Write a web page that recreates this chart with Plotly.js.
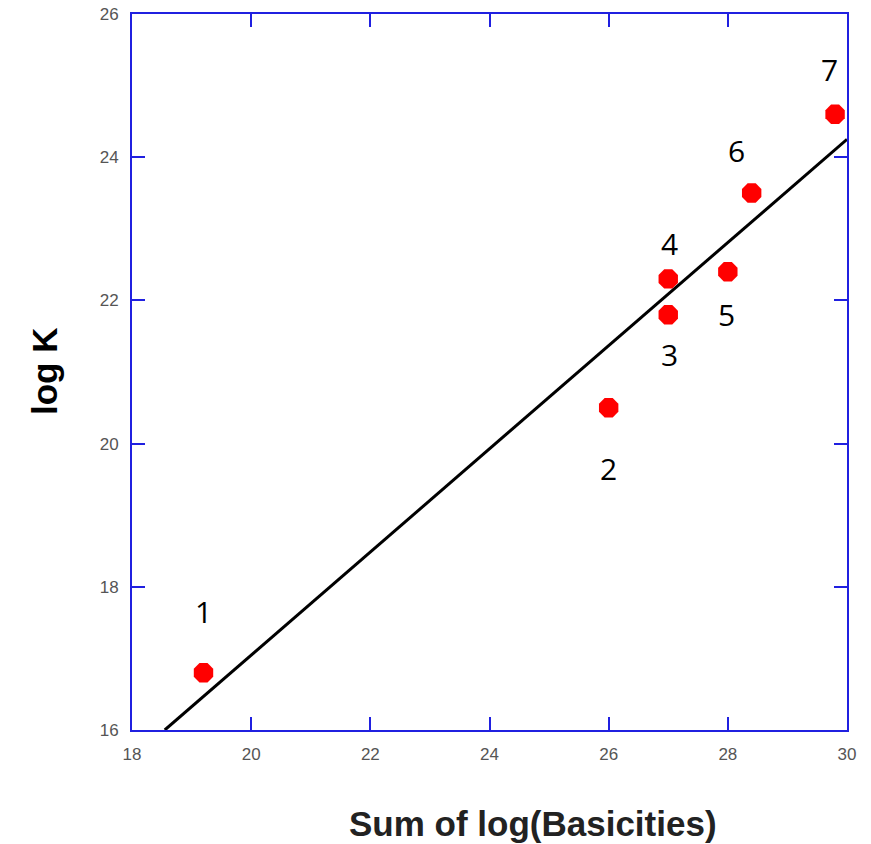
<!DOCTYPE html>
<html><head><meta charset="utf-8">
<script src="https://cdn.plot.ly/plotly-3.0.1.min.js"></script>
<style>html,body{margin:0;padding:0;background:#fff}#chart{width:871px;height:844px}</style>
</head><body><div id="chart"></div>
<script>
const pointX = [19.2, 26.0, 27.0, 27.0, 28.0, 28.4, 29.8];
const pointY = [16.8, 20.5, 21.8, 22.3, 22.4, 23.5, 24.6];
const pointLabels = ["1", "2", "3", "4", "5", "6", "7"];
const labelX = [19.2, 26.0, 27.02, 27.02, 27.98, 28.15, 29.7];
const labelY = [17.65, 19.65, 21.24, 22.8, 21.8, 24.1, 25.22];
const fitX = [18.55, 30];
const fitY = [16.0, 24.25];
const xTicks = [18, 20, 22, 24, 26, 28, 30];
const yTicks = [16, 18, 20, 22, 24, 26];

const traces = [
  {x: fitX, y: fitY, mode: 'lines', line: {color: '#000', width: 3}, hoverinfo: 'skip'},
  {x: pointX, y: pointY, mode: 'markers', marker: {color: '#ff0000', size: 21, symbol: 'octagon'}, cliponaxis: false}
];

const annotations = pointLabels.map((t, i) => ({
  x: labelX[i], y: labelY[i], xref: 'x', yref: 'y', text: t, showarrow: false,
  font: {family: 'Open Sans, Liberation Sans, sans-serif', size: 30, color: '#000'}
}));
annotations.push({
  xref: 'paper', yref: 'paper', x: 0.561, y: -0.13, text: '<b>Sum of log(Basicities)</b>', showarrow: false,
  yanchor: 'middle', font: {family: 'Liberation Sans, Arial, sans-serif', size: 35, color: '#222'}
});
annotations.push({
  xref: 'paper', yref: 'paper', x: -0.123, y: 0.5, text: '<b>log K</b>', showarrow: false, textangle: -90,
  xanchor: 'center', yanchor: 'middle',
  font: {family: 'Liberation Sans, Arial, sans-serif', size: 35, color: '#000'}
});

const axisCommon = {
  showgrid: false, zeroline: false, showline: true, linecolor: '#2020e0', linewidth: 2,
  mirror: 'ticks', ticks: 'inside', ticklen: 13, tickwidth: 2, tickcolor: '#2020e0',
  tickfont: {family: 'Liberation Sans, Arial, sans-serif', size: 17, color: '#555'}
};

const layout = {
  width: 871, height: 844,
  margin: {l: 132, r: 24, t: 14, b: 114},
  showlegend: false,
  paper_bgcolor: '#fff', plot_bgcolor: '#fff',
  xaxis: Object.assign({}, axisCommon, {range: [18, 30], tickvals: xTicks, ticktext: xTicks.map(String), ticklabelstandoff: 8}),
  yaxis: Object.assign({}, axisCommon, {range: [16, 26], tickvals: yTicks, ticktext: yTicks.map(String), ticklabelstandoff: 8}),
  annotations: annotations
};

Plotly.newPlot('chart', traces, layout, {displayModeBar: false, staticPlot: true});
</script>
</body></html>
